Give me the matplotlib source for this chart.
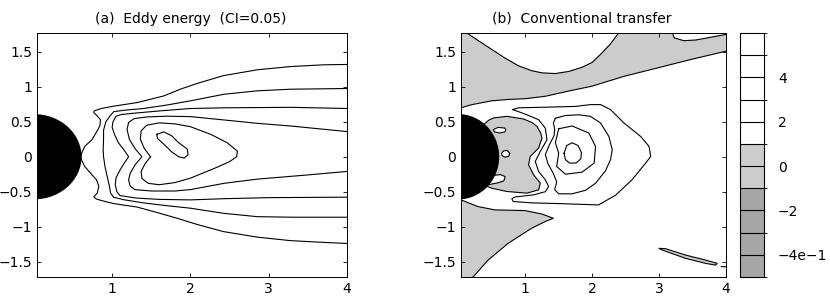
import matplotlib
matplotlib.use("Agg")
import matplotlib.pyplot as plt
import numpy as np
from matplotlib.colors import ListedColormap, BoundaryNorm
from matplotlib.patches import Circle
import matplotlib.colorbar as mcolorbar

plt.rcParams['font.family'] = ['DejaVu Sans']
plt.rcParams['font.size'] = 10

# ---- panel (a): eddy energy contours ----
e1_x = [4.0, 3.7, 3.28, 2.855, 2.42, 2.09, 1.87, 1.66, 1.32, 1.0, 0.86, 0.77, 0.765, 0.80, 0.85, 0.845,
        0.82, 0.74, 0.65, 0.61, 0.60, 0.61, 0.65, 0.72, 0.80, 0.83, 0.81, 0.765, 0.80, 0.86, 1.02, 1.32,
        1.55, 1.83, 2.09, 2.42, 2.855, 3.28, 3.7, 4.0]
e1_y = [1.32, 1.315, 1.29, 1.244, 1.16, 1.05, 0.966, 0.87, 0.775, 0.72, 0.69, 0.655, 0.63, 0.595, 0.53, 0.45,
        0.39, 0.24, 0.15, 0.05, 0.0, -0.05, -0.14, -0.23, -0.33, -0.42, -0.52, -0.575, -0.605, -0.625, -0.67, -0.72,
        -0.79, -0.88, -0.97, -1.07, -1.15, -1.20, -1.225, -1.24]

e2_x = [4.0, 3.28, 2.855, 2.43, 2.0, 1.7, 1.4, 1.15, 1.02, 0.97, 0.92, 0.89, 0.89, 0.885, 0.89,
        0.91, 0.94, 0.965, 0.98, 1.02, 1.15, 1.4, 1.7, 2.0, 2.43, 2.855, 3.3, 4.0]
e2_y = [0.976, 0.966, 0.943, 0.894, 0.80, 0.74, 0.69, 0.665, 0.645, 0.58, 0.50, 0.38, 0.24, 0.10, 0.0,
        -0.15, -0.30, -0.42, -0.52, -0.58, -0.615, -0.66, -0.70, -0.736, -0.81, -0.857, -0.865, -0.865]

e3_x = [4.0, 3.28, 2.43, 2.0, 1.6, 1.3, 1.12, 1.05, 1.01, 1.0, 1.03, 1.08, 1.15, 1.21, 1.15, 1.10,
        1.05, 1.04, 1.06, 1.10, 1.3, 1.6, 2.0, 2.43, 3.0, 4.0]
e3_y = [0.69, 0.707, 0.70, 0.69, 0.655, 0.625, 0.605, 0.58, 0.50, 0.42, 0.32, 0.20, 0.10, 0.0, -0.10, -0.19,
        -0.30, -0.40, -0.50, -0.555, -0.59, -0.61, -0.617, -0.60, -0.585, -0.578]

e4_x = [4.0, 3.28, 2.855, 2.43, 2.0, 1.7, 1.45, 1.28, 1.21, 1.19, 1.22, 1.29, 1.38, 1.29, 1.23, 1.21,
        1.23, 1.29, 1.5, 1.8, 2.0, 2.43, 2.855, 3.5, 4.0]
e4_y = [0.36, 0.44, 0.478, 0.526, 0.574, 0.58, 0.57, 0.545, 0.49, 0.39, 0.25, 0.12, 0.0, -0.12, -0.24, -0.33,
        -0.42, -0.47, -0.49, -0.49, -0.47, -0.38, -0.32, -0.26, -0.21]

e5_x = [1.49, 1.41, 1.36, 1.37, 1.44, 1.6, 1.8, 2.0, 2.26, 2.47, 2.6, 2.59, 2.5, 2.34, 2.0, 1.8, 1.6,
        1.46, 1.38, 1.37, 1.42, 1.49]
e5_y = [0.0, 0.12, 0.25, 0.37, 0.45, 0.485, 0.47, 0.43, 0.32, 0.20, 0.08, 0.0, -0.07, -0.15, -0.306, -0.37,
        -0.40, -0.38, -0.31, -0.21, -0.10, 0.0]

e6_x = [1.57, 1.66, 1.76, 1.85, 1.96, 1.97, 1.92, 1.85, 1.76, 1.66, 1.58, 1.57]
e6_y = [0.32, 0.355, 0.30, 0.20, 0.11, 0.03, -0.02, 0.0, 0.07, 0.18, 0.26, 0.32]

# ---- panel (b): conventional transfer, shaded bands and contours ----
pocket_x = [0.12, 0.3, 0.5, 0.7, 0.9, 1.1, 1.25, 1.45, 1.65, 1.85, 2.0, 2.12, 2.27, 2.4]
pocket_y = [1.775, 1.66, 1.535, 1.41, 1.30, 1.23, 1.20, 1.19, 1.22, 1.28, 1.35, 1.46, 1.61, 1.775]
band_x = [0.04, 0.2, 0.5, 0.75, 1.0, 1.3, 1.65, 2.0, 2.475, 2.975, 3.47, 4.0]
band_y = [0.70, 0.745, 0.80, 0.82, 0.83, 0.865, 0.94, 1.01, 1.15, 1.27, 1.39, 1.51]
corner_x = [3.2, 3.225, 3.37, 3.55, 3.72, 4.0]
corner_y = [1.775, 1.70, 1.66, 1.67, 1.70, 1.75]

lowleft_x = [0.04, 0.295, 0.545, 0.995, 1.245, 1.42, 1.295, 1.095, 0.745, 0.445, 0.22]
lowleft_y = [-0.617, -0.713, -0.76, -0.77, -0.818, -0.88, -0.928, -1.023, -1.238, -1.478, -1.72]

near_x = [0.38, 0.45, 0.525, 0.725, 0.975, 1.10, 1.175, 1.23, 1.25, 1.2, 1.075, 1.05, 1.125, 1.225,
          1.2, 1.025, 0.725, 0.5, 0.42]
near_y = [0.46, 0.52, 0.555, 0.578, 0.54, 0.49, 0.435, 0.34, 0.268, 0.124, 0.005, -0.115, -0.258, -0.378,
          -0.473, -0.521, -0.497, -0.45, -0.42]

isl1_x = [0.52, 0.595, 0.695, 0.71, 0.695, 0.62, 0.545, 0.52]
isl1_y = [0.387, 0.42, 0.41, 0.38, 0.355, 0.34, 0.354, 0.387]
isl2_x = [0.645, 0.68, 0.73, 0.77, 0.75, 0.70, 0.655, 0.645]
isl2_y = [0.05, 0.085, 0.09, 0.05, 0.005, -0.005, 0.015, 0.05]
isl3_x = [0.45, 0.47, 0.55, 0.63, 0.70, 0.68, 0.58, 0.50, 0.45]
isl3_y = [-0.29, -0.29, -0.265, -0.255, -0.285, -0.345, -0.375, -0.39, -0.40]

sliver_x = [2.995, 3.095, 3.395, 3.695, 3.87, 3.845, 3.695, 3.395, 3.045, 2.995]
sliver_y = [-1.31, -1.315, -1.406, -1.478, -1.525, -1.55, -1.525, -1.453, -1.334, -1.31]
tick_x = [3.93, 4.0]
tick_y = [-1.57, -1.575]

t2_x = [0.81, 0.90, 1.35, 1.75, 1.975, 2.125, 2.275, 2.475, 2.725, 2.85, 2.875, 2.80, 2.595, 2.35, 2.095,
        1.5, 1.1, 0.82, 0.80, 0.85, 1.125, 1.30, 1.35, 1.30, 1.20, 1.15, 1.225, 1.325, 1.30, 1.20, 1.025,
        0.90, 0.81]
t2_y = [0.675, 0.70, 0.71, 0.72, 0.746, 0.746, 0.674, 0.483, 0.29, 0.148, 0.004, -0.09, -0.33, -0.55, -0.689,
        -0.67, -0.66, -0.64, -0.60, -0.575, -0.545, -0.50, -0.426, -0.33, -0.21, -0.067, 0.076, 0.244, 0.41,
        0.53, 0.60, 0.645, 0.675]
t3_x = [1.45, 1.6, 1.8, 1.975, 2.125, 2.25, 2.30, 2.275, 2.2, 2.05, 1.9, 1.7, 1.5, 1.44, 1.47, 1.42,
        1.34, 1.30, 1.36, 1.43, 1.44, 1.42, 1.45]
t3_y = [0.55, 0.59, 0.60, 0.578, 0.483, 0.29, 0.10, -0.04, -0.2, -0.38, -0.48, -0.53, -0.53, -0.47, -0.36,
        -0.24, -0.10, 0.03, 0.17, 0.30, 0.40, 0.48, 0.55]
t4_x = [1.5, 1.7, 1.95, 2.05, 2.03, 1.85, 1.6, 1.47, 1.50, 1.45, 1.5]
t4_y = [0.40, 0.44, 0.34, 0.148, -0.09, -0.22, -0.25, -0.14, 0.05, 0.20, 0.40]
t5_x = [1.58, 1.62, 1.70, 1.79, 1.84, 1.83, 1.76, 1.66, 1.60, 1.58]
t5_y = [0.05, 0.16, 0.20, 0.16, 0.06, -0.03, -0.09, -0.09, -0.04, 0.05]

# colour bar
cb_levels = [-5, -4, -3, -2, -1, 0, 1, 2, 3, 4, 5, 6]
cb_ticks = [-4, -2, 0, 2, 4]
cb_labels = ['\u22124e\u22121', '\u22122', '0', '2', '4']

yticks = [-1.5, -1, -0.5, 0, 0.5, 1, 1.5]
ylabels = ['\u22121.5', '\u22121', '\u22120.5', '0', '0.5', '1', '1.5']
xticks = [1, 2, 3, 4]

light = '#cccccc'
dark = '#a6a6a6'
xlim = (0.04, 4.0)
ylim = (-1.72, 1.77)
lw = 0.8

fig = plt.figure(figsize=(8.3, 3.02), dpi=100)
ax1 = fig.add_axes([37 / 830, 25 / 302, 310 / 830, 244 / 302])
ax2 = fig.add_axes([461 / 830, 25 / 302, 265 / 830, 244 / 302])
cax = fig.add_axes([740 / 830, 25 / 302, 24 / 830, 244 / 302])


def style(ax):
    ax.set_xlim(*xlim)
    ax.set_ylim(*ylim)
    ax.set_xticks(xticks)
    ax.set_xticklabels([str(t) for t in xticks])
    ax.set_yticks(yticks)
    ax.set_yticklabels(ylabels)
    ax.tick_params(direction='in', length=3, width=0.6, top=True, right=True, labelsize=10, pad=3.5)
    for s in ax.spines.values():
        s.set_linewidth(0.7)


# panel (a)
for cx, cy in [(e1_x, e1_y), (e2_x, e2_y), (e3_x, e3_y), (e4_x, e4_y), (e5_x, e5_y), (e6_x, e6_y)]:
    ax1.plot(cx, cy, color='black', lw=lw)
ax1.add_patch(Circle((0, 0), 0.6, color='black', zorder=5))
style(ax1)
ax1.set_title('(a)  Eddy energy  (CI=0.05)', fontsize=10, pad=7.5, x=0.495)

# panel (b)
x0, x1 = xlim
ytop, ybot = 1.9, -1.9
bx = [x0] + pocket_x + corner_x + [x1] + band_x[::-1]
by = [ytop] + pocket_y + corner_y + [band_y[-1]] + band_y[::-1]
ax2.fill(bx, by, color=light, lw=0)
ax2.fill(lowleft_x + [x0], lowleft_y + [ybot], color=light, lw=0)
ax2.fill(near_x, near_y, color=light, lw=0)
for ix, iy in [(isl1_x, isl1_y), (isl2_x, isl2_y), (isl3_x, isl3_y)]:
    ax2.fill(ix, iy, facecolor='white', edgecolor='black', lw=lw)
ax2.fill(sliver_x, sliver_y, facecolor=light, edgecolor='black', lw=lw)
for lx, ly in [(pocket_x, pocket_y), (band_x, band_y), (corner_x, corner_y), (lowleft_x, lowleft_y),
               (near_x, near_y), (tick_x, tick_y), (t2_x, t2_y), (t3_x, t3_y), (t4_x, t4_y), (t5_x, t5_y)]:
    ax2.plot(lx, ly, color='black', lw=lw)
ax2.add_patch(Circle((0, 0), 0.6, color='black', zorder=5))
style(ax2)
ax2.set_title('(b)  Conventional transfer', fontsize=10, pad=7.5, x=0.457)

# colour bar
cmap = ListedColormap([dark] * 4 + [light] * 2 + ['white'] * 5)
norm = BoundaryNorm(cb_levels, cmap.N)
cb = mcolorbar.ColorbarBase(cax, cmap=cmap, norm=norm, boundaries=cb_levels, drawedges=True)
cb.dividers.set_linewidth(0.8)
cb.outline.set_linewidth(0.8)
cb.set_ticks(cb_ticks)
cb.set_ticklabels(cb_labels)
cax.tick_params(length=0, labelsize=10, pad=10)

fig.savefig('out.png', dpi=100)
